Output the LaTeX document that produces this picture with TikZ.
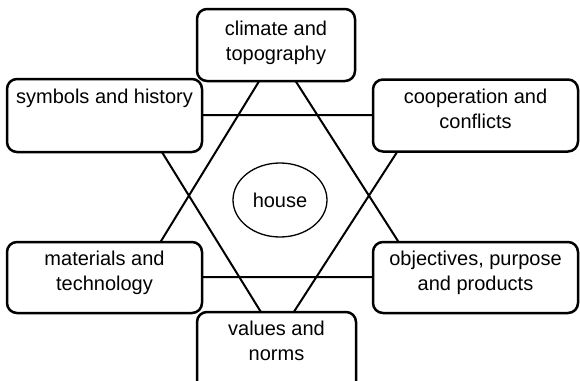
\documentclass[tikz,border=0pt]{standalone}
\usepackage{fontspec}
\setmainfont{Liberation Sans}
\usetikzlibrary{shapes.geometric}
\newcommand\lnTop{\rule{0pt}{16pt}}
\newcommand\lnBot{\rule[-16pt]{0pt}{16pt}}
\newcommand\lnTopTall{\rule{0pt}{18.5pt}}
\newcommand\lnBotShort{\rule[-13.5pt]{0pt}{13.5pt}}
\newcommand\lnBotLong{\rule[-28pt]{0pt}{28pt}}
\begin{document}
\begin{tikzpicture}[x=1pt,y=-1pt,
  box/.style={draw, line width=2.5pt, rounded corners=10pt, fill=white,
    align=center, inner sep=0pt, font=\fontsize{20}{25}\selectfont},
  tri/.style={line width=2pt},
  hub/.style={draw, ellipse, line width=1.3pt, inner sep=0pt,
    font=\fontsize{20}{25}\selectfont}]
\clip (0,0) rectangle (580,380);
% upward triangle
\coordinate (ta) at (277,52);
\coordinate (tl) at (139,277);
\coordinate (tr) at (421,277);
% downward triangle
\coordinate (ul) at (139,115);
\coordinate (ur) at (421,115);
\coordinate (ub) at (277,338);
\draw[tri] (ta) -- (tl) -- (tr) -- cycle;
\draw[tri] (ul) -- (ur) -- (ub) -- cycle;
\node[box, minimum width=158pt, minimum height=72pt] (climate) at (276,45) {\lnTopTall climate and\\topography\lnBotShort};
\node[box, minimum width=195pt, minimum height=73pt] (symbols) at (104.5,115.5) {\lnTop symbols and history\\\lnBot};
\node[box, minimum width=205pt, minimum height=72pt] (coop) at (475.5,115.5) {\lnTop cooperation and\\conflicts\lnBot};
\node[box, minimum width=195pt, minimum height=71pt] (materials) at (104.5,277.5) {\lnTop materials and\\technology\lnBot};
\node[box, minimum width=205pt, minimum height=71pt] (objectives) at (475.5,277.5) {\lnTop objectives, purpose\\and products\lnBot};
\node[box, minimum width=159pt, minimum height=84pt] (values) at (276.5,354) {\lnTop values and\\norms\lnBotLong};
\node[hub, minimum width=94pt, minimum height=74pt] (house) at (280,200) {house};
\end{tikzpicture}
\end{document}
